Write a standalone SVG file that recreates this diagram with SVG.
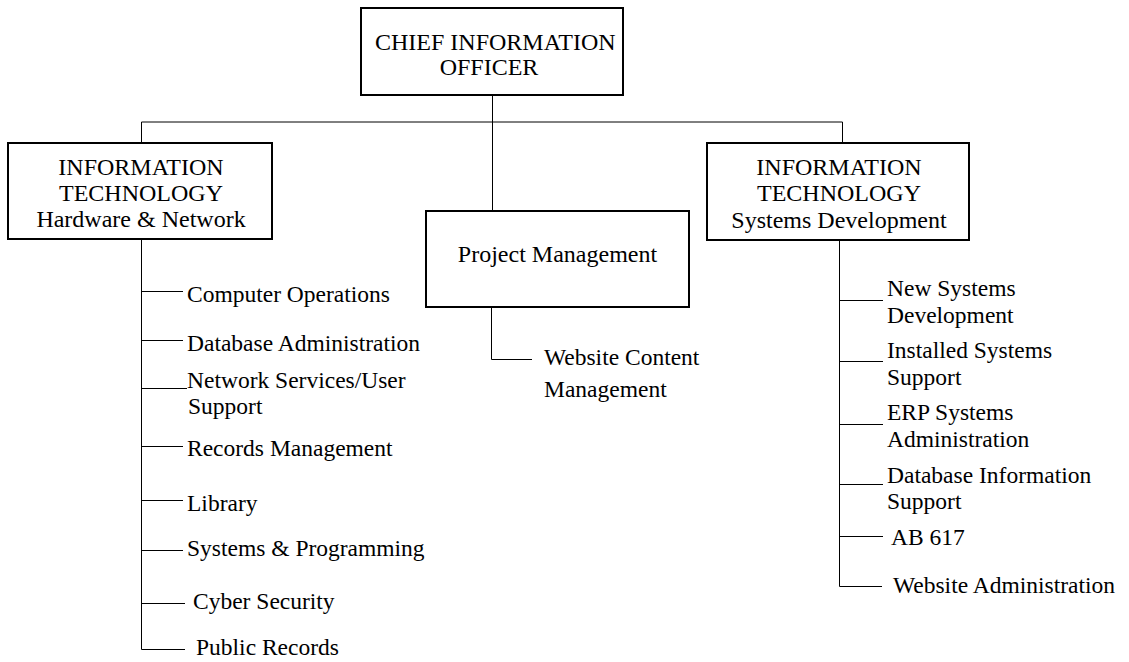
<svg xmlns="http://www.w3.org/2000/svg" width="1129" height="662" viewBox="0 0 1129 662">
<style>
.box{fill:#fff;stroke:#000;stroke-width:2}
.ln{fill:none;stroke:#000;stroke-width:1}
text{font-family:"Liberation Serif","Times New Roman",serif;font-size:23.5px;fill:#000}
.h{font-size:24px}
.c{text-anchor:middle}
</style>
<rect width="1129" height="662" fill="#fff"/>
<g id="connectors">
<path class="ln" d="M492.5,96V122M141.5,122H842.5M141.5,122V143M842.5,122V143M492.5,122V211"/>
<path class="ln" d="M141.5,239V649.5H185M141.5,291.5H183M141.5,340.5H183M141.5,388.5H187M141.5,446.5H183M141.5,500.5H183M141.5,550.5H183M141.5,603.5H185"/>
<path class="ln" d="M491.5,307V359.5H532"/>
<path class="ln" d="M839.5,240V586.5H882M839.5,300.5H883M839.5,361.5H883M839.5,424.5H883M839.5,484.5H883M839.5,536.5H883"/>
</g>
<g id="cio">
<rect class="box" x="361" y="8" width="262" height="87"/>
<text class="h" x="375" y="50">CHIEF INFORMATION</text>
<text class="h c" x="489" y="75">OFFICER</text>
</g>
<g id="it-hardware">
<rect class="box" x="8" y="143" width="264" height="96"/>
<text class="h c" x="141" y="175">INFORMATION</text>
<text class="h c" x="141" y="201">TECHNOLOGY</text>
<text class="h c" x="141" y="227">Hardware &amp; Network</text>
</g>
<g id="project-management">
<rect class="box" x="426" y="211" width="263" height="96"/>
<text class="h c" x="557.5" y="262">Project Management</text>
</g>
<g id="it-systems">
<rect class="box" x="707" y="143" width="262" height="97"/>
<text class="h c" x="839" y="175">INFORMATION</text>
<text class="h c" x="839" y="201">TECHNOLOGY</text>
<text class="h c" x="839" y="228">Systems Development</text>
</g>
<g id="computer-operations"><text x="187" y="302">Computer Operations</text></g>
<g id="database-administration"><text x="187" y="351">Database Administration</text></g>
<g id="network-services"><text x="187" y="388">Network Services/User</text><text x="188" y="414">Support</text></g>
<g id="records-management"><text x="187" y="456">Records Management</text></g>
<g id="library"><text x="187" y="511">Library</text></g>
<g id="systems-programming"><text x="187" y="556">Systems &amp; Programming</text></g>
<g id="cyber-security"><text x="193" y="609">Cyber Security</text></g>
<g id="public-records"><text x="196" y="655">Public Records</text></g>
<g id="website-content"><text x="544" y="365">Website Content</text><text x="544" y="397">Management</text></g>
<g id="new-systems"><text x="887" y="296">New Systems</text><text x="887" y="323">Development</text></g>
<g id="installed-systems"><text x="887" y="358">Installed Systems</text><text x="887" y="385">Support</text></g>
<g id="erp-systems"><text x="887" y="420">ERP Systems</text><text x="887" y="447">Administration</text></g>
<g id="database-information"><text x="887" y="483">Database Information</text><text x="887" y="509">Support</text></g>
<g id="ab617"><text x="891" y="545">AB 617</text></g>
<g id="website-administration"><text x="893" y="593">Website Administration</text></g>
</svg>
